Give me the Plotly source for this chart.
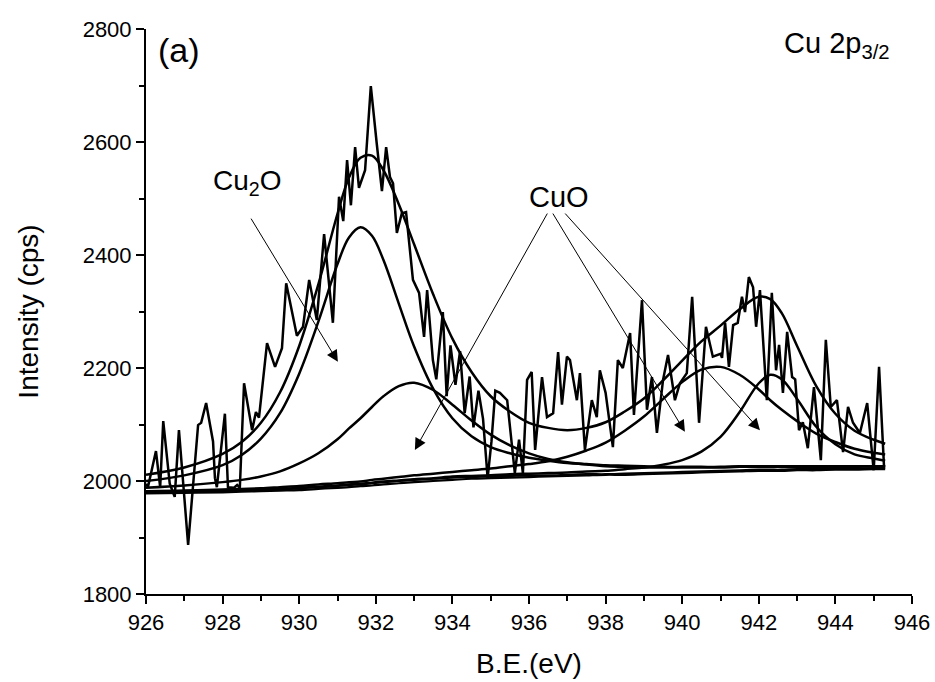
import plotly.graph_objects as go

# ---- raw spectrum (B.E. in eV, intensity in cps) ----
raw_x = [926.0, 926.05, 926.26, 926.37, 926.45, 926.62, 926.75, 926.86, 927.1, 927.36, 927.44, 927.57,
         927.75, 927.8, 927.85, 928.06, 928.14, 928.3, 928.38, 928.45, 928.56, 928.77, 928.87, 928.95,
         929.16, 929.37, 929.55, 929.66, 929.94, 930.1, 930.26, 930.46, 930.65, 930.88, 931.04, 931.15,
         931.25, 931.35, 931.46, 931.56, 931.72, 931.87, 932.02, 932.16, 932.27, 932.37, 932.45, 932.55,
         932.68, 932.79, 932.97, 933.13, 933.26, 933.34, 933.49, 933.58, 933.75, 933.85, 933.95, 934.08,
         934.2, 934.32, 934.45, 934.55, 934.68, 934.8, 934.92, 935.02, 935.12, 935.24, 935.43, 935.63,
         935.74, 935.84, 935.95, 936.07, 936.16, 936.34, 936.47, 936.63, 936.76, 936.86, 936.99, 937.07,
         937.25, 937.33, 937.46, 937.64, 937.77, 937.85, 938.0, 938.19, 938.32, 938.45, 938.64, 938.74,
         938.95, 939.08, 939.21, 939.34, 939.5, 939.63, 939.81, 939.94, 940.12, 940.26, 940.44, 940.62,
         940.8, 941.0, 941.04, 941.12, 941.22, 941.33, 941.45, 941.56, 941.64, 941.74, 941.85, 941.93,
         942.03, 942.21, 942.34, 942.45, 942.53, 942.63, 942.74, 942.87, 942.95, 943.05, 943.15, 943.28,
         943.44, 943.62, 943.75, 943.88, 944.04, 944.2, 944.33, 944.46, 944.64, 944.83, 945.0, 945.14,
         945.27]
raw_y = [1995, 1989, 2053, 1989, 2106, 1995, 1972, 2090, 1887, 2099, 2103, 2138,
         2070, 2005, 1989, 2119, 1989, 1988, 1993, 1988, 2173, 2090, 2122, 2112,
         2244, 2202, 2235, 2350, 2257, 2273, 2356, 2285, 2437, 2280, 2503, 2460,
         2568, 2488, 2591, 2519, 2550, 2699, 2600, 2513, 2591, 2538, 2527, 2439,
         2474, 2476, 2356, 2333, 2255, 2338, 2214, 2180, 2299, 2150, 2240, 2170,
         2230, 2120, 2185, 2095, 2160, 2110, 2005, 2070, 2160, 2156, 2143, 2014,
         2073, 2014, 2179, 2193, 2055, 2184, 2113, 2120, 2228, 2135, 2220, 2214,
         2143, 2191, 2055, 2143, 2113, 2196, 2156, 2060, 2214, 2200, 2262, 2117,
         2320, 2126, 2184, 2085, 2179, 2223, 2143, 2173, 2191, 2326, 2103, 2273,
         2220, 2225, 2218, 2280, 2202, 2276, 2280, 2326, 2299, 2361, 2343, 2273,
         2338, 2143, 2333, 2196, 2241, 2156, 2264, 2184, 2180, 2090, 2104, 2058,
         2166, 2037, 2250, 2131, 2143, 2051, 2131, 2103, 2085, 2138, 2019, 2202,
         2025]

fit_x = [926, 927, 928, 928.5, 929, 929.5, 930, 930.5, 931, 931.3, 931.6, 931.9, 932.2, 932.6,
         933, 933.5, 934, 934.5, 935, 935.5, 936, 936.5, 937, 937.5, 938, 938.5, 939, 939.5,
         940, 940.5, 941, 941.5, 942, 942.3, 942.6, 943, 943.5, 944, 944.5, 945, 945.3]
envelope = [2011, 2024, 2048, 2069, 2103, 2157, 2239, 2348, 2473, 2537, 2572, 2576, 2550, 2490,
            2419, 2330, 2252, 2193, 2150, 2123, 2103, 2094, 2090, 2094, 2104, 2123, 2146, 2178,
            2213, 2247, 2275, 2304, 2326, 2322, 2297, 2239, 2168, 2119, 2089, 2073, 2066]
cu2o_peak = [2000, 2010, 2028, 2046, 2075, 2120, 2190, 2282, 2384, 2431, 2449, 2434, 2391, 2314,
             2238, 2163, 2111, 2079, 2060, 2049, 2041, 2036, 2032, 2030, 2028, 2027, 2026, 2025,
             2025, 2025, 2025, 2026, 2026, 2026, 2026, 2026, 2026, 2026, 2026, 2026, 2026]
cuo_peak1 = [1988, 1992, 1998, 2002, 2008, 2017, 2031, 2049, 2074, 2093, 2111, 2131, 2150, 2168,
             2174, 2161, 2135, 2107, 2082, 2063, 2049, 2039, 2033, 2029, 2026, 2025, 2024, 2024,
             2024, 2024, 2024, 2025, 2025, 2025, 2025, 2025, 2025, 2025, 2025, 2026, 2026]
cuo_peak2 = [1982, 1983, 1985, 1986, 1987, 1989, 1991, 1994, 1996, 1998, 1999, 2002, 2004, 2007,
             2010, 2013, 2016, 2019, 2022, 2026, 2030, 2035, 2043, 2054, 2068, 2089, 2114, 2145,
             2175, 2197, 2202, 2188, 2162, 2143, 2126, 2106, 2084, 2069, 2057, 2050, 2047]
cuo_peak3 = [1981, 1982, 1983, 1984, 1985, 1986, 1988, 1990, 1992, 1994, 1995, 1997, 1999, 2001,
             2003, 2005, 2008, 2009, 2010, 2012, 2013, 2014, 2015, 2017, 2018, 2021, 2024, 2029,
             2037, 2052, 2078, 2122, 2173, 2188, 2180, 2145, 2096, 2065, 2047, 2040, 2036]
background = [1980, 1981, 1982, 1983, 1984, 1985, 1987, 1989, 1991, 1993, 1994, 1996, 1998, 2000,
              2002, 2004, 2006, 2007, 2008, 2009, 2010, 2010, 2011, 2012, 2012, 2013, 2014, 2015,
              2016, 2017, 2018, 2019, 2020, 2020, 2020, 2021, 2021, 2022, 2022, 2023, 2023]
background_b = [1978, 1979, 1980, 1981, 1982, 1983, 1984, 1986, 1988, 1989, 1991, 1992, 1994, 1996,
                1998, 2000, 2002, 2004, 2005, 2006, 2007, 2008, 2009, 2010, 2011, 2011, 2012, 2013,
                2014, 2015, 2016, 2017, 2018, 2018, 2018, 2019, 2019, 2020, 2020, 2021, 2021]

x_ticks = [926, 928, 930, 932, 934, 936, 938, 940, 942, 944, 946]
y_ticks = [1800, 2000, 2200, 2400, 2600, 2800]

FONT = "Arial, Liberation Sans, sans-serif"
fig = go.Figure()

for ys in [background, background_b]:
    fig.add_trace(go.Scatter(x=fit_x, y=ys, mode="lines", line=dict(color="black", width=2.2, shape="spline"),
                             showlegend=False, hoverinfo="skip"))
for ys in [cuo_peak3, cuo_peak2, cuo_peak1, cu2o_peak, envelope]:
    fig.add_trace(go.Scatter(x=fit_x, y=ys, mode="lines", line=dict(color="black", width=2.5, shape="spline"),
                             showlegend=False, hoverinfo="skip"))
fig.add_trace(go.Scatter(x=raw_x, y=raw_y, mode="lines", line=dict(color="black", width=2.5),
                         showlegend=False, hoverinfo="skip"))

# arrows
arrows = [((931.01, 2211), (928.72, 2467)),
          ((933.02, 2055), (936.50, 2476)),
          ((940.07, 2087), (936.60, 2476)),
          ((942.03, 2090), (936.91, 2476))]
for (tx, ty), (sx, sy) in arrows:
    fig.add_annotation(x=tx, y=ty, ax=sx, ay=sy, xref="x", yref="y", axref="x", ayref="y",
                       text="", showarrow=True, arrowhead=2, arrowsize=2.3, arrowwidth=1,
                       arrowcolor="black")

labels = [(926.86, 2763, "(a)", 34),
          (944.05, 2772, "Cu 2p<sub>3/2</sub>", 29),
          (928.64, 2529, "Cu<sub>2</sub>O", 28),
          (936.78, 2503, "CuO", 29)]
for lx, ly, txt, sz in labels:
    fig.add_annotation(x=lx, y=ly, xref="x", yref="y", text=txt, showarrow=False,
                       font=dict(family=FONT, size=sz, color="black"), xanchor="center", yanchor="middle")

fig.update_layout(
    width=935, height=682,
    margin=dict(l=146, r=23, t=29, b=88, autoexpand=False),
    paper_bgcolor="white", plot_bgcolor="white",
    font=dict(family=FONT, color="black"),
)
fig.update_xaxes(range=[926, 946], tickvals=x_ticks, ticktext=[str(v) for v in x_ticks], automargin=False,
                 showline=True, linecolor="black", linewidth=2, ticks="outside", ticklen=8, tickwidth=2,
                 tickcolor="black", showgrid=False, zeroline=False, tickfont=dict(size=22),
                 minor=dict(dtick=1, tick0=926, ticks="outside", ticklen=5, tickwidth=2, tickcolor="black"),
                 title=dict(text="B.E.(eV)", font=dict(size=28), standoff=19))
fig.update_yaxes(range=[1800, 2800], tickvals=y_ticks, ticktext=[str(v) for v in y_ticks], automargin=False,
                 showline=True, linecolor="black", linewidth=2, ticks="outside", ticklen=8, tickwidth=2,
                 tickcolor="black", showgrid=False, zeroline=False, tickfont=dict(size=22),
                 minor=dict(dtick=100, tick0=1800, ticks="outside", ticklen=5, tickwidth=2, tickcolor="black"),
                 title=dict(text="Intensity (cps)", font=dict(size=28), standoff=36))

fig.write_html("out.html", config={"displayModeBar": False},
               post_script="document.body.style.margin='0px';")
